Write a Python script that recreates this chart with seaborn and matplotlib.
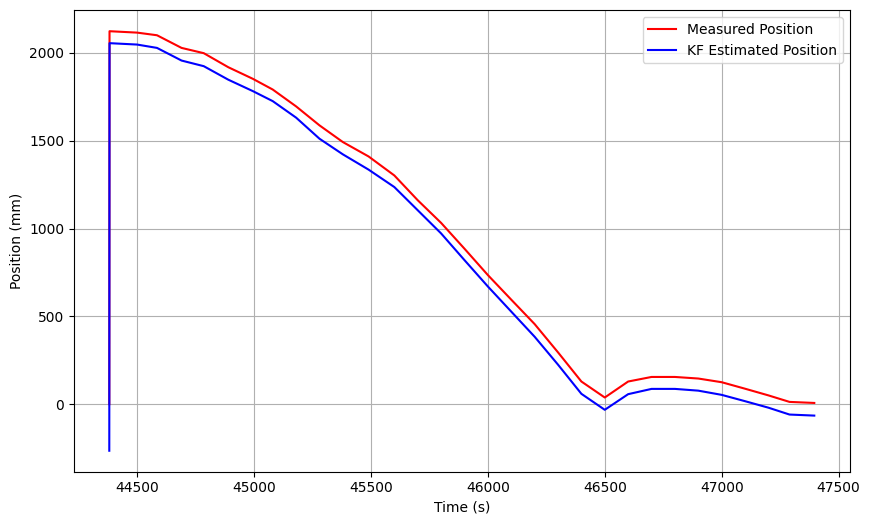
"""Measured vs Kalman-filter estimated position over time."""

import matplotlib

matplotlib.use("Agg")

import matplotlib.pyplot as plt
import pandas as pd
import seaborn as sns

# Time stamps (s)
time_s = [
    44381, 44382, 44500, 44585, 44690, 44785, 44890, 44995, 45080, 45180,
    45280, 45380, 45490, 45600, 45700, 45800, 45900, 46000, 46100, 46200,
    46300, 46400, 46500, 46600, 46700, 46800, 46900, 47000, 47100, 47200,
    47290, 47396,
]

# Position (mm)
measured_mm = [
    0, 2123, 2115, 2100, 2028, 1998, 1918, 1852, 1791, 1695,
    1587, 1492, 1410, 1302, 1161, 1032, 885, 735, 595, 456,
    295, 129, 38, 129, 155, 155, 146, 125, 88, 50,
    13, 7,
]
kf_estimated_mm = [
    -265, 2055, 2047, 2028, 1956, 1924, 1847, 1782, 1725, 1631,
    1511, 1422, 1335, 1236, 1104, 972, 820, 670, 527, 384,
    225, 59, -32, 57, 87, 87, 77, 53, 17, -20,
    -59, -65,
]

df = pd.DataFrame(
    {"time": time_s, "measured": measured_mm, "kf": kf_estimated_mm}
)

fig = plt.figure(figsize=(8.69, 5.25), dpi=100)
ax = fig.add_axes([0.0852, 0.1015, 0.8924, 0.879])

sns.lineplot(data=df, x="time", y="measured", color="red", label="Measured Position",
             sort=False, estimator=None, ax=ax)
sns.lineplot(data=df, x="time", y="kf", color="blue", label="KF Estimated Position",
             sort=False, estimator=None, ax=ax)

ax.set_xlabel("Time (s)")
ax.set_ylabel("Position (mm)")
ax.grid(True)
ax.legend(loc="upper right")

fig.savefig("out.png", dpi=100)
plt.close(fig)
